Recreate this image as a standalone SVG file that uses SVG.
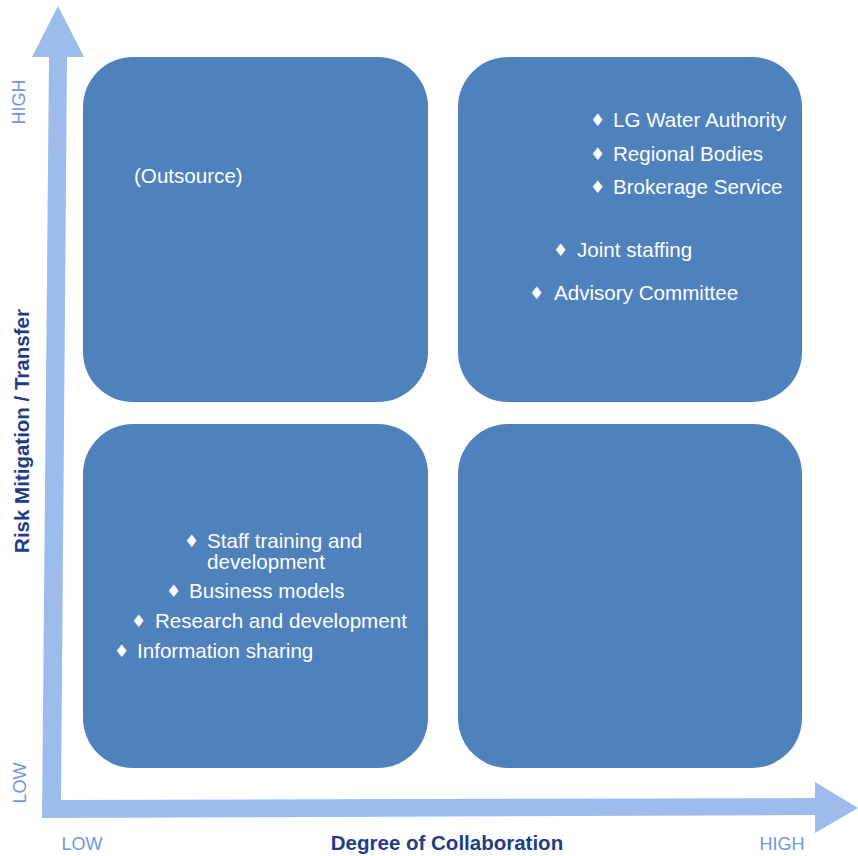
<svg xmlns="http://www.w3.org/2000/svg" width="858" height="856" viewBox="0 0 858 856">
  <style>
    .quad { fill: #4f81bd; }
    .item { font-family: "Liberation Sans", Arial, sans-serif; font-size: 20.6px; fill: #ffffff; }
    .bul { font-family: "DejaVu Sans", sans-serif; font-size: 17px; fill: #ffffff; }
    .tick { font-family: "Liberation Sans", Arial, sans-serif; font-size: 18px; fill: #7096e4; }
    .title { font-family: "Liberation Sans", Arial, sans-serif; font-size: 20.5px; font-weight: bold; fill: #1f3c86; }
    .axis { fill: #9dbbeb; }
  </style>
  <rect width="858" height="856" fill="#ffffff"/>

  <!-- axes: one L-shaped double arrow -->
  <g id="axes">
    <polygon class="axis" points="58,6 84,57 67,57 61,800 815,798 815,782 858,808 815,833 815,815 42,818 49,57 32,57"/>
  </g>

  <!-- quadrants -->
  <g id="q-top-left">
    <rect class="quad" x="83" y="57" width="345" height="345" rx="50" ry="50"/>
    <text class="item" x="134" y="183">(Outsource)</text>
  </g>

  <g id="q-top-right">
    <rect class="quad" x="458" y="57" width="344" height="345" rx="50" ry="50"/>
    <text class="bul" x="590" y="126">♦</text>
    <text class="item" x="613" y="127">LG Water Authority</text>
    <text class="bul" x="590" y="160">♦</text>
    <text class="item" x="613" y="161">Regional Bodies</text>
    <text class="bul" x="590" y="193">♦</text>
    <text class="item" x="613" y="194">Brokerage Service</text>
    <text class="bul" x="553" y="256">♦</text>
    <text class="item" x="577" y="257">Joint staffing</text>
    <text class="bul" x="529" y="299">♦</text>
    <text class="item" x="554" y="300">Advisory Committee</text>
  </g>

  <g id="q-bottom-left">
    <rect class="quad" x="83" y="424" width="345" height="344" rx="50" ry="50"/>
    <text class="bul" x="184" y="547">♦</text>
    <text class="item" x="207" y="548">Staff training and</text>
    <text class="item" x="207" y="569">development</text>
    <text class="bul" x="166" y="597">♦</text>
    <text class="item" x="189" y="598">Business models</text>
    <text class="bul" x="131" y="627">♦</text>
    <text class="item" x="155" y="628">Research and development</text>
    <text class="bul" x="114" y="657">♦</text>
    <text class="item" x="137" y="658">Information sharing</text>
  </g>

  <g id="q-bottom-right">
    <rect class="quad" x="458" y="424" width="344" height="344" rx="50" ry="50"/>
  </g>

  <!-- axis labels -->
  <g id="labels">
    <text class="tick" transform="translate(25,102) rotate(-90)" text-anchor="middle">HIGH</text>
    <text class="tick" transform="translate(26,783) rotate(-90)" text-anchor="middle">LOW</text>
    <text class="tick" x="82" y="850" text-anchor="middle">LOW</text>
    <text class="tick" x="782" y="850" text-anchor="middle">HIGH</text>
    <text class="title" x="447" y="850" text-anchor="middle">Degree of Collaboration</text>
    <text class="title" transform="translate(29,431) rotate(-90)" text-anchor="middle">Risk Mitigation / Transfer</text>
  </g>
</svg>
